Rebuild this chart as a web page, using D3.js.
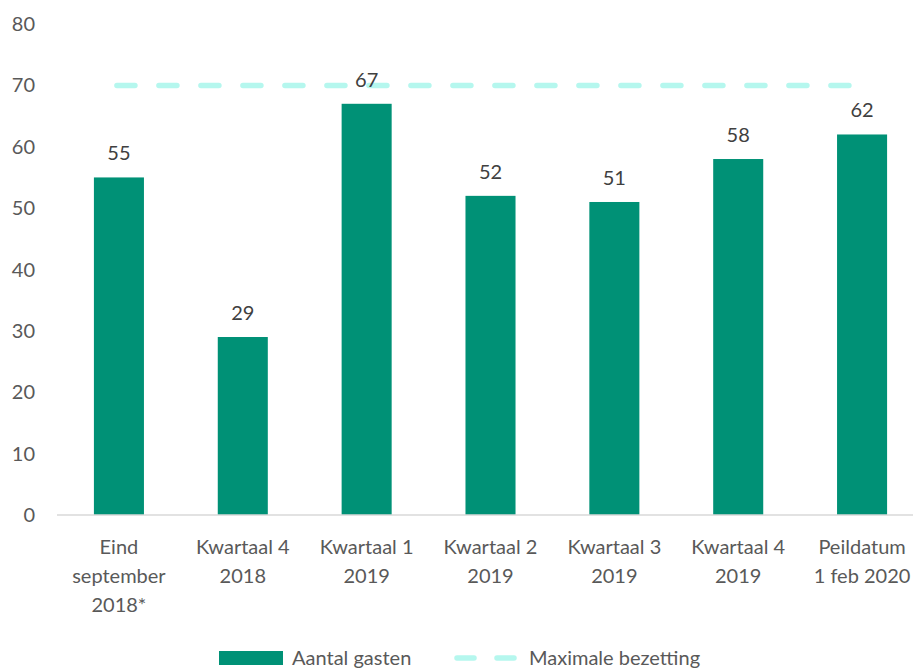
<!DOCTYPE html>
<html>
<head>
<meta charset="utf-8">
<script src="https://cdn.jsdelivr.net/npm/d3@7"></script>
<style>
  body { margin: 0; background: #fff; }
  text { font-family: Lato, "Open Sans", sans-serif; }
</style>
</head>
<body>
<div id="chart"></div>
<script>
var categories = [
    ["Eind", "september", "2018*"],
    ["Kwartaal 4", "2018"],
    ["Kwartaal 1", "2019"],
    ["Kwartaal 2", "2019"],
    ["Kwartaal 3", "2019"],
    ["Kwartaal 4", "2019"],
    ["Peildatum", "1 feb 2020"]
];
var gasten = [55, 29, 67, 52, 51, 58, 62];
var maxBezetting = 70;
var yTicks = [0, 10, 20, 30, 40, 50, 60, 70, 80];
var legendLabels = ["Aantal gasten", "Maximale bezetting"];

var width = 913, height = 668;
var barColor = "#009176", lineColor = "#b5f7ee";
var fontSize = 20;

var svg = d3.select("#chart")
    .append("svg")
    .attr("width", width)
    .attr("height", height);

var x = d3.scaleBand()
    .domain(d3.range(categories.length))
    .range([57, 924])
    .paddingInner(0.596)
    .paddingOuter(0.298);

var y = d3.scaleLinear()
    .domain([0, 80])
    .range([515, 24]);

// y tick labels
svg.append("g")
    .selectAll("text")
    .data(yTicks)
    .join("text")
    .attr("x", 35)
    .attr("y", d => y(d))
    .attr("dy", "0.35em")
    .attr("text-anchor", "end")
    .attr("fill", "#595959")
    .attr("font-size", fontSize + "px")
    .text(d => d);

// bars
svg.append("g")
    .selectAll("rect")
    .data(gasten)
    .join("rect")
    .attr("x", (d, i) => x(i))
    .attr("width", x.bandwidth())
    .attr("y", d => y(d))
    .attr("height", d => y(0) - y(d))
    .attr("fill", barColor);

// x axis line
svg.append("line")
    .attr("x1", 57)
    .attr("x2", width)
    .attr("y1", y(0))
    .attr("y2", y(0))
    .attr("stroke", "#d9d9d9")
    .attr("stroke-width", 1.5);

// dashed max line
svg.append("line")
    .attr("x1", x(0) + x.bandwidth() / 2 - 2)
    .attr("x2", x(categories.length - 1) + x.bandwidth() / 2 - 9)
    .attr("y1", y(maxBezetting))
    .attr("y2", y(maxBezetting))
    .attr("stroke", lineColor)
    .attr("stroke-width", 5.5)
    .attr("stroke-linecap", "round")
    .attr("stroke-dasharray", "18,24");

// value labels
svg.append("g")
    .selectAll("text")
    .data(gasten)
    .join("text")
    .attr("x", (d, i) => x(i) + x.bandwidth() / 2)
    .attr("y", d => y(d) - 17)
    .attr("text-anchor", "middle")
    .attr("fill", "#404040")
    .attr("font-size", fontSize + "px")
    .text(d => d);

// category labels
var cat = svg.append("g")
    .selectAll("text")
    .data(categories)
    .join("text")
    .attr("x", (d, i) => x(i) + x.bandwidth() / 2)
    .attr("y", 554)
    .attr("text-anchor", "middle")
    .attr("fill", "#595959")
    .attr("font-size", fontSize + "px");
cat.selectAll("tspan")
    .data(d => d)
    .join("tspan")
    .attr("x", function () { return d3.select(this.parentNode).attr("x"); })
    .attr("dy", (d, i) => i === 0 ? 0 : 29)
    .text(d => d);

// legend
var legend = svg.append("g");
legend.append("rect")
    .attr("x", 219)
    .attr("y", 651)
    .attr("width", 64)
    .attr("height", 14)
    .attr("fill", barColor);
legend.append("text")
    .attr("x", 292)
    .attr("y", 665)
    .attr("fill", "#595959")
    .attr("font-size", fontSize + "px")
    .text(legendLabels[0]);
legend.append("line")
    .attr("x1", 457)
    .attr("x2", 514)
    .attr("y1", 658)
    .attr("y2", 658)
    .attr("stroke", lineColor)
    .attr("stroke-width", 5.5)
    .attr("stroke-linecap", "round")
    .attr("stroke-dasharray", "17,23");
legend.append("text")
    .attr("x", 529)
    .attr("y", 665)
    .attr("fill", "#595959")
    .attr("font-size", fontSize + "px")
    .text(legendLabels[1]);
</script>
</body>
</html>
